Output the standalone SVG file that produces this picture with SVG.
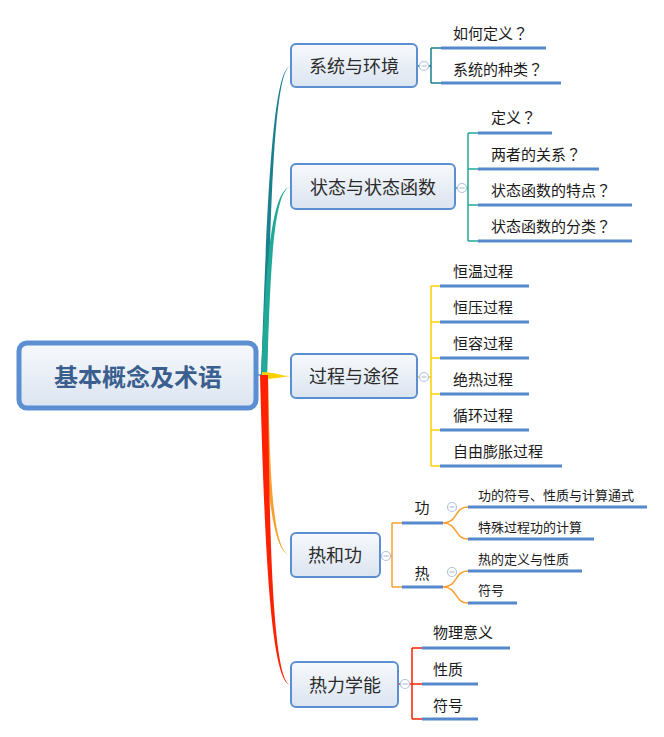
<svg xmlns="http://www.w3.org/2000/svg" width="664" height="737" viewBox="0 0 664 737">
<defs>
<linearGradient id="g" x1="0" y1="0" x2="0" y2="1">
<stop offset="0" stop-color="#f7f9fc"/>
<stop offset="1" stop-color="#dbe4f1"/>
</linearGradient>
<style>
.node{fill:url(#g);stroke:#5b8fd1;stroke-width:2}
.root{fill:url(#g);stroke:#5b8fd1;stroke-width:5}
.bt{font-family:"Noto Sans CJK SC","Liberation Sans",sans-serif;font-size:18px;fill:#2b2b2b;text-anchor:middle;dominant-baseline:central}
.rt{font-family:"Noto Sans CJK SC","Liberation Sans",sans-serif;font-size:24px;font-weight:bold;fill:#3a5f8e;text-anchor:middle;dominant-baseline:central}
.lt{font-family:"Noto Sans CJK SC","Liberation Sans",sans-serif;font-size:15px;fill:#1a1a1a;dominant-baseline:central}
.q{font-family:"Noto Sans CJK TC","Noto Sans CJK SC",sans-serif}
.st{font-family:"Noto Sans CJK SC","Liberation Sans",sans-serif;font-size:13px;fill:#1a1a1a;dominant-baseline:central}
.ul{stroke:#5588cc;stroke-width:3;fill:none}
.ln{fill:none;stroke-width:1.5}
.cc{fill:#fff;stroke:#b3c2dd;stroke-width:1.2}
.cm{stroke:#b3c2dd;stroke-width:1.2}
</style>
</defs>

<g id="connectors">
<line x1="257" y1="375" x2="264" y2="375" stroke="#5b8fd1" stroke-width="1.5"/>
<path d="M261,376 C266,250 270,66 291,66 C272,66 270,250 267,376 Z" fill="#1a7f8e"/>
<path d="M261,376 C265,290 269,187 291,187 C272,187 270,290 267,376 Z" fill="#1fa996"/>
<path d="M262,372 C275,372 280,376 291,376 C280,377 275,379 262,379 Z" fill="#ffd000"/>
<path d="M261,375 C266,470 270,555 291,555 C272,555 270,470 268,375 Z" fill="#f7a030"/>
<path d="M260,375 C264,520 269,685 291,685 C272,685 269,520 268,375 Z" fill="#ff2200"/>

<g stroke="#1a7f8e" class="ln">
<path d="M418,66 H431 M431,48 V83 M431,48 H441 M431,83 H441"/>
</g>
<g stroke="#1fa996" class="ln">
<path d="M455,188 H468 M468,133 V241 M468,133 H478 M468,169 H478 M468,205 H478 M468,241 H478"/>
</g>
<g stroke="#ffd000" class="ln">
<path d="M418,377 H431 M431,286 V466 M431,286 H440 M431,322 H440 M431,358 H440 M431,394 H440 M431,430 H440 M431,466 H440"/>
</g>
<g stroke="#f7a030" class="ln">
<path d="M380,556 H392 M392,523 V587 M392,523 H402 M392,587 H402"/>
<path d="M443,523 C458,523 454,507 468,507 M443,523 C458,523 454,539 468,539"/>
<path d="M443,587 C458,587 454,571 468,571 M443,587 C458,587 454,603 468,603"/>
</g>
<g stroke="#ff2200" class="ln">
<path d="M398,684 H412 M412,648 V719 M412,648 H422 M412,684 H422 M412,719 H422"/>
</g>

<path class="ul" d="M441,48 H546 M441,83 H561"/>
<path class="ul" d="M478,133 H552 M478,169 H599 M478,205 H632 M478,241 H632"/>
<path class="ul" d="M440,286 H529 M440,322 H529 M440,358 H529 M440,394 H529 M440,430 H529 M440,466 H562"/>
<path class="ul" d="M402,523 H443 M402,587 H443"/>
<path class="ul" d="M468,507 H647 M468,539 H594 M468,571 H582 M468,603 H517"/>
<path class="ul" d="M422,648 H510 M422,684 H478 M422,719 H478"/>

<g>
<circle class="cc" cx="424" cy="66" r="4.5"/><line class="cm" x1="421.5" y1="66" x2="426.5" y2="66"/>
<circle class="cc" cx="462" cy="188" r="4.5"/><line class="cm" x1="459.5" y1="188" x2="464.5" y2="188"/>
<circle class="cc" cx="424" cy="377" r="4.5"/><line class="cm" x1="421.5" y1="377" x2="426.5" y2="377"/>
<circle class="cc" cx="386" cy="556" r="4.5"/><line class="cm" x1="383.5" y1="556" x2="388.5" y2="556"/>
<circle class="cc" cx="452" cy="507" r="4.5"/><line class="cm" x1="449.5" y1="507" x2="454.5" y2="507"/>
<circle class="cc" cx="452" cy="572" r="4.5"/><line class="cm" x1="449.5" y1="572" x2="454.5" y2="572"/>
<circle class="cc" cx="405" cy="684" r="4.5"/><line class="cm" x1="402.5" y1="684" x2="407.5" y2="684"/>
</g>
</g>

<g id="root">
<rect class="root" x="19" y="343" width="237" height="65" rx="8"/>
<text class="rt" x="138" y="375">基本概念及术语</text>
</g>

<g id="n1">
<rect class="node" x="291" y="44" width="126" height="43" rx="5"/>
<text class="bt" x="354" y="65">系统与环境</text>
</g>
<g id="n1a"><text class="lt" x="453" y="32">如何定义<tspan class="q">？</tspan></text></g>
<g id="n1b"><text class="lt" x="453" y="68">系统的种类<tspan class="q">？</tspan></text></g>

<g id="n2">
<rect class="node" x="291" y="164" width="164" height="45" rx="5"/>
<text class="bt" x="373" y="186">状态与状态函数</text>
</g>
<g id="n2a"><text class="lt" x="491" y="116">定义<tspan class="q">？</tspan></text></g>
<g id="n2b"><text class="lt" x="491" y="153">两者的关系<tspan class="q">？</tspan></text></g>
<g id="n2c"><text class="lt" x="491" y="189">状态函数的特点<tspan class="q">？</tspan></text></g>
<g id="n2d"><text class="lt" x="491" y="225">状态函数的分类<tspan class="q">？</tspan></text></g>

<g id="n3">
<rect class="node" x="291" y="354" width="126" height="44" rx="5"/>
<text class="bt" x="354" y="375">过程与途径</text>
</g>
<g id="n3a"><text class="lt" x="453" y="270">恒温过程</text></g>
<g id="n3b"><text class="lt" x="453" y="306">恒压过程</text></g>
<g id="n3c"><text class="lt" x="453" y="342">恒容过程</text></g>
<g id="n3d"><text class="lt" x="453" y="378">绝热过程</text></g>
<g id="n3e"><text class="lt" x="453" y="414">循环过程</text></g>
<g id="n3f"><text class="lt" x="453" y="450">自由膨胀过程</text></g>

<g id="n4">
<rect class="node" x="291" y="533" width="89" height="44" rx="5"/>
<text class="bt" x="335" y="554">热和功</text>
</g>
<g id="n4a"><text class="lt" x="422" y="506" text-anchor="middle">功</text></g>
<g id="n4a1"><text class="st" x="478" y="494">功的符号、性质与计算通式</text></g>
<g id="n4a2"><text class="st" x="478" y="526">特殊过程功的计算</text></g>
<g id="n4b"><text class="lt" x="422" y="572" text-anchor="middle">热</text></g>
<g id="n4b1"><text class="st" x="478" y="558">热的定义与性质</text></g>
<g id="n4b2"><text class="st" x="478" y="589">符号</text></g>

<g id="n5">
<rect class="node" x="291" y="662" width="107" height="45" rx="5"/>
<text class="bt" x="345" y="684">热力学能</text>
</g>
<g id="n5a"><text class="lt" x="433" y="631">物理意义</text></g>
<g id="n5b"><text class="lt" x="433" y="668">性质</text></g>
<g id="n5c"><text class="lt" x="433" y="704">符号</text></g>
</svg>
